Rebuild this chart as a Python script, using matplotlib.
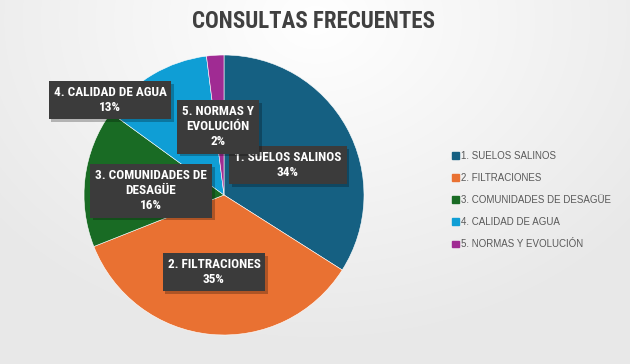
import numpy as np
import matplotlib
matplotlib.use("Agg")
import matplotlib.pyplot as plt
import matplotlib.patheffects as pe

categories = ["1. SUELOS SALINOS", "2. FILTRACIONES", "3. COMUNIDADES DE DESAGÜE",
              "4. CALIDAD DE AGUA", "5. NORMAS Y EVOLUCIÓN"]
values = [34, 35, 16, 13, 2]
box_labels = ["1. SUELOS SALINOS", "2. FILTRACIONES", "3. COMUNIDADES DE\nDESAGÜE",
              "4. CALIDAD DE AGUA", "5. NORMAS Y\nEVOLUCIÓN"]
colors = ["#156082", "#E97132", "#196B24", "#0F9ED5", "#A02B93"]

# label box centres in pixels (x, y from top)
label_px = [(288, 165), (214, 272), (151, 191), (110, 100), (218, 127)]

W, H = 630, 364
fig = plt.figure(figsize=(W / 100, H / 100), dpi=100)
cond = ["Roboto Condensed", "DejaVu Sans"]

# soft background gradient
bg = fig.add_axes([0, 0, 1, 1])
yy, xx = np.mgrid[0:H, 0:W]
d = np.sqrt(((xx - 315) / 420.0) ** 2 + ((yy - 20) / 330.0) ** 2)
shade = 1.0 - 0.09 * np.clip(d, 0, 1)
bg.imshow(np.dstack([shade, shade, shade]), extent=[0, W, H, 0], aspect="auto")
bg.set_xlim(0, W)
bg.set_ylim(H, 0)
bg.axis("off")

cx, cy, r = 224, 195, 140
ax = fig.add_axes([(cx - r) / W, (H - cy - r) / H, 2 * r / W, 2 * r / H])
ax.pie(values, colors=colors, startangle=90, counterclock=False, radius=1,
       wedgeprops=dict(linewidth=0.4, edgecolor="white"))
ax.set_xlim(-1, 1)
ax.set_ylim(-1, 1)
ax.set_aspect("equal")
ax.axis("off")

for lab, v, (px, py) in zip(box_labels, values, label_px):
    t = ax.text((px - cx) / r, (cy - py) / r, "{}\n{}%".format(lab, v),
                ha="center", va="center", color="white", fontsize=9.5, fontweight="bold",
                family=cond, linespacing=1.2,
                bbox=dict(boxstyle="square,pad=0.38", facecolor="#3b3b3b", edgecolor="none"))
    t.get_bbox_patch().set_path_effects([
        pe.SimplePatchShadow(offset=(2, -2), shadow_rgbFace="black", alpha=0.25),
        pe.Normal()])

fig.text(313 / W, 1 - 21 / H, "CONSULTAS FRECUENTES", ha="center", va="center",
         fontsize=16.5, fontweight="bold", color="#404040", family=cond)

handles = [plt.Rectangle((0, 0), 1, 1, color=c) for c in colors]
fig.legend(handles, categories, loc="upper left", bbox_to_anchor=(443 / W, 1 - 142 / H),
           frameon=False, labelcolor="#595959", handlelength=0.7,
           handleheight=0.7, handletextpad=0.3, labelspacing=1.25,
           prop=dict(family="Liberation Sans", size=7))

fig.savefig("out.png", dpi=100)
